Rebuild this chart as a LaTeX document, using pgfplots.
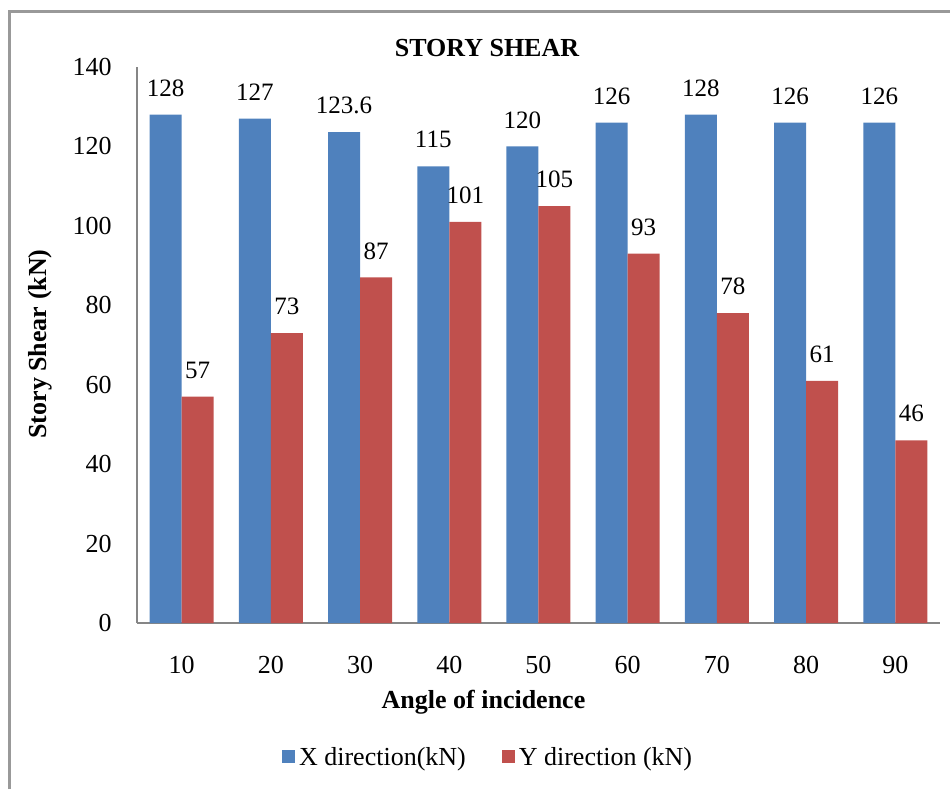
\documentclass[border=0pt]{standalone}
\usepackage{pgfplots}
\pgfplotsset{compat=1.18}
\usepackage{fontspec}
\setmainfont{Liberation Serif}
\definecolor{xblue}{HTML}{4F81BD}
\definecolor{yred}{HTML}{C0504D}
\definecolor{axgray}{HTML}{868686}
\newcommand\fs{\fontsize{13}{15.6}\selectfont}
\newcommand\fsd{\fontsize{12.5}{15}\selectfont}
\begin{document}
\begin{tikzpicture}
\useasboundingbox (0,0) rectangle (475pt,-394.5pt);
\draw[color=gray!80, line width=1.2pt] (4.75pt,-394.5pt) -- (4.75pt,-5.75pt) -- (475pt,-5.75pt);
\begin{axis}[
  at={(68.5pt,-311.5pt)}, anchor=south west,
  scale only axis, width=401.5pt, height=278pt,
  ybar=0pt, bar width=16pt,
  xmin=-0.5, xmax=8.5, ymin=0, ymax=140,
  axis x line=bottom, axis y line=left,
  axis line style={-, draw=axgray, line width=0.6pt},
  every outer x axis line/.append style={-},
  every outer y axis line/.append style={-},
  major tick length=0pt,
  xtick={0,...,8},
  xticklabels={10,20,30,40,50,60,70,80,90},
  ytick={0,20,...,140},
  /pgf/number format/assume math mode=true,
  yticklabel style={font=\fs, anchor=east, inner sep=0pt, xshift=-12.5pt},
  xticklabel style={font=\fs, anchor=base, inner sep=0pt, yshift=-25pt},
  every axis title shift=0pt,
  title={STORY SHEAR},
  title style={font=\fs\bfseries, at={(axis description cs:0.4359,1.0198)}, anchor=base, yshift=0pt},
  xlabel={Angle of incidence},
  xlabel style={font=\fs\bfseries, at={(axis description cs:0.4315,-0.1529)}, anchor=base},
  ylabel={Story Shear (kN)},
  ylabel style={font=\fs\bfseries, at={(axis description cs:-0.1208,0.5018)}, anchor=center},
  nodes near coords,
  nodes near coords align=center,
  every node near coord/.append style={font=\fsd, yshift=13.3pt, text=black},
  legend columns=2,
  legend style={at={(axis description cs:0.4385,-0.2428)}, anchor=center, draw=none, font=\fs,
    /tikz/every even column/.append style={column sep=16pt}},
  legend image code/.code={\fill[#1,draw=none] (0pt,-2.6pt) rectangle (6.5pt,3.9pt);},
]
\addplot[fill=xblue, draw=none] coordinates {(0,128) (1,127) (2,123.6) (3,115) (4,120) (5,126) (6,128) (7,126) (8,126)};
\addplot[fill=yred, draw=none] coordinates {(0,57) (1,73) (2,87) (3,101) (4,105) (5,93) (6,78) (7,61) (8,46)};
\legend{X direction(kN), Y direction (kN)}
\end{axis}
\end{tikzpicture}
\end{document}
